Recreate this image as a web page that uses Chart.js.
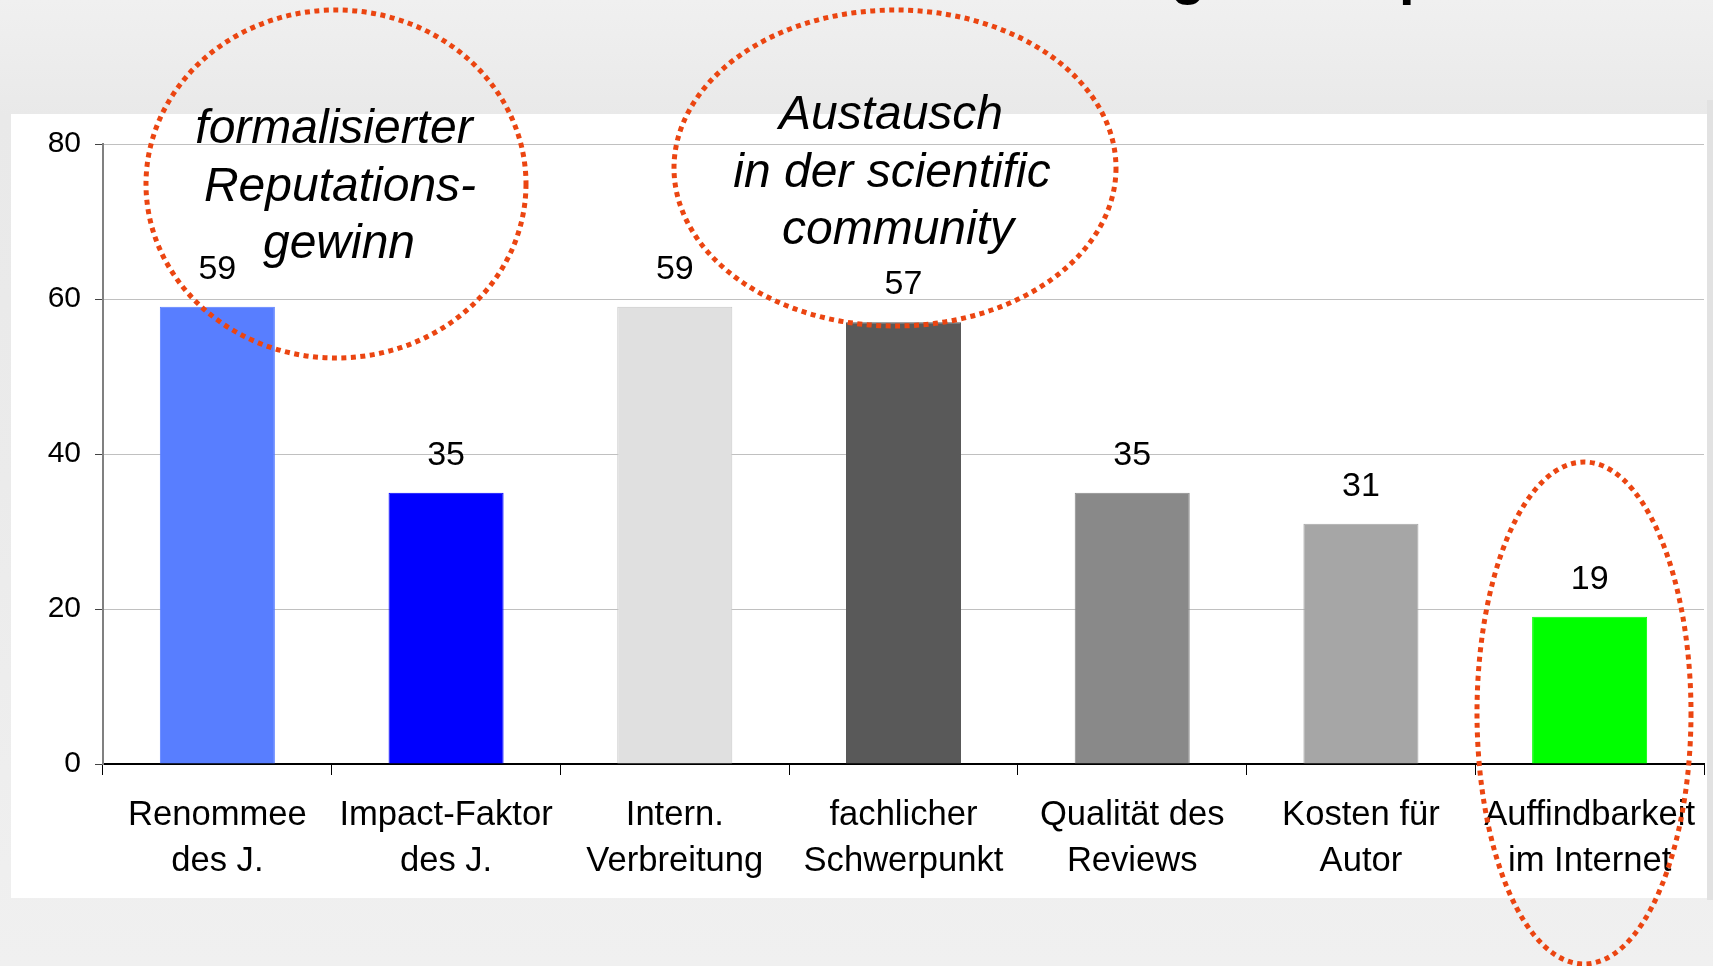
<!DOCTYPE html>
<html>
<head>
<meta charset="utf-8">
<script src="https://cdn.jsdelivr.net/npm/chart.js@4.4.1/dist/chart.umd.min.js"></script>
<style>
  html, body { margin: 0; padding: 0; background: #ececec; overflow: hidden; }
  #wrap { position: relative; width: 1713px; height: 966px; }
  canvas { display: block; }
</style>
</head>
<body>
<div id="wrap"><canvas id="c" width="1713" height="966"></canvas></div>
<script>
// ---- data ----
const categories = [
  ["Renommee", "des J."],
  ["Impact-Faktor", "des J."],
  ["Intern.", "Verbreitung"],
  ["fachlicher", "Schwerpunkt"],
  ["Qualität des", "Reviews"],
  ["Kosten für", "Autor"],
  ["Auffindbarkeit", "im Internet"]
];
const values = [59, 35, 59, 57, 35, 31, 19];
const barColors = ["#587EFF", "#0000FF", "#E0E0E0", "#595959", "#898989", "#A6A6A6", "#00FF00"];
const barBorders = ["#587EFF", "#0000FF", "#C8C8C8", "#595959", "#898989", "#A6A6A6", "#00FF00"];
const yTicks = [0, 20, 40, 60, 80];
const noteLeft = ["formalisierter", "Reputations-", "gewinn"];
const noteMiddle = ["Austausch", "in der scientific", "community"];
const titleFragments = ["g", "p"];

const FONT = "'Liberation Sans', Arial, sans-serif";
const RED = "#EB4511";

const backgroundPlugin = {
  id: 'bg',
  beforeDraw(chart) {
    const ctx = chart.ctx;
    ctx.save();
    const g = ctx.createLinearGradient(0, 0, 0, 966);
    g.addColorStop(0, '#f0f0f0');
    g.addColorStop(0.12, '#e9e9e9');
    g.addColorStop(0.5, '#ebebeb');
    g.addColorStop(1, '#f0f0f0');
    ctx.fillStyle = g;
    ctx.fillRect(0, 0, 1713, 966);
    ctx.fillStyle = '#e2e2e2';
    ctx.fillRect(1707, 100, 6, 800);
    ctx.fillStyle = '#ffffff';
    ctx.fillRect(11, 114, 1696, 784);
    // cut-off title fragments
    ctx.fillStyle = '#000';
    ctx.font = "bold 56px " + FONT;
    ctx.textBaseline = 'alphabetic';
    ctx.textAlign = 'left';
    ctx.fillText(titleFragments[0], 1171, -7);
    ctx.fillText(titleFragments[1], 1399, -7);
    ctx.restore();
  }
};

const labelsPlugin = {
  id: 'vals',
  afterDatasetsDraw(chart) {
    const ctx = chart.ctx;
    const meta = chart.getDatasetMeta(0);
    ctx.save();
    ctx.fillStyle = '#000';
    ctx.font = "34px " + FONT;
    ctx.textAlign = 'center';
    ctx.textBaseline = 'alphabetic';
    meta.data.forEach((bar, i) => {
      ctx.fillText(String(values[i]), bar.x, bar.y - 28);
    });
    ctx.restore();
  }
};

function dottedEllipse(ctx, cx, cy, rx, ry) {
  ctx.save();
  ctx.strokeStyle = RED;
  ctx.lineWidth = 5;
  ctx.setLineDash([5, 4.5]);
  ctx.lineCap = 'butt';
  ctx.beginPath();
  ctx.ellipse(cx, cy, rx, ry, 0, 0, Math.PI * 2);
  ctx.stroke();
  ctx.restore();
}

const notesPlugin = {
  id: 'notes',
  afterDraw(chart) {
    const ctx = chart.ctx;
    dottedEllipse(ctx, 336, 184, 190, 174);
    dottedEllipse(ctx, 895, 168, 221, 158);
    dottedEllipse(ctx, 1584, 713, 107, 251);
    ctx.save();
    ctx.fillStyle = '#000';
    ctx.font = "italic 48px " + FONT;
    ctx.textAlign = 'center';
    ctx.textBaseline = 'alphabetic';
    const l1x = [334, 340, 339], l1y = [143, 201, 258];
    noteLeft.forEach((t, i) => ctx.fillText(t, l1x[i], l1y[i]));
    const l2x = [891, 892, 898], l2y = [129, 187, 244];
    noteMiddle.forEach((t, i) => ctx.fillText(t, l2x[i], l2y[i]));
    ctx.restore();
  }
};

new Chart(document.getElementById('c'), {
  type: 'bar',
  data: {
    labels: categories,
    datasets: [{
      data: values,
      backgroundColor: barColors,
      borderColor: barBorders,
      borderWidth: 1,
      barPercentage: 0.503,
      categoryPercentage: 1.0
    }]
  },
  options: {
    responsive: false,
    animation: false,
    devicePixelRatio: 1,
    layout: { padding: { left: 0, top: 144, right: 9, bottom: 0 } },
    plugins: { legend: { display: false }, tooltip: { enabled: false } },
    scales: {
      x: {
        afterFit(scale) { scale.height = 202; },
        grid: {
          offset: true,
          drawOnChartArea: false,
          drawTicks: true,
          tickLength: 11,
          tickColor: '#000',
          tickWidth: 1
        },
        border: { display: true, color: '#000', width: 2 },
        ticks: {
          color: '#000',
          padding: 17,
          autoSkip: false,
          maxRotation: 0,
          font: { family: FONT, size: 34.6, lineHeight: 1.33 }
        }
      },
      y: {
        min: 0,
        max: 80,
        afterFit(scale) { scale.width = 103; },
        afterBuildTicks(scale) { scale.ticks = yTicks.map(v => ({ value: v })); },
        grid: {
          color: '#c0c0c0',
          lineWidth: 1,
          tickLength: 8,
          tickColor: '#444'
        },
        border: { display: true, color: '#808080', width: 2 },
        ticks: {
          color: '#000',
          padding: 14,
          font: { family: FONT, size: 30 }
        }
      }
    }
  },
  plugins: [backgroundPlugin, labelsPlugin, notesPlugin]
});
</script>
</body>
</html>
